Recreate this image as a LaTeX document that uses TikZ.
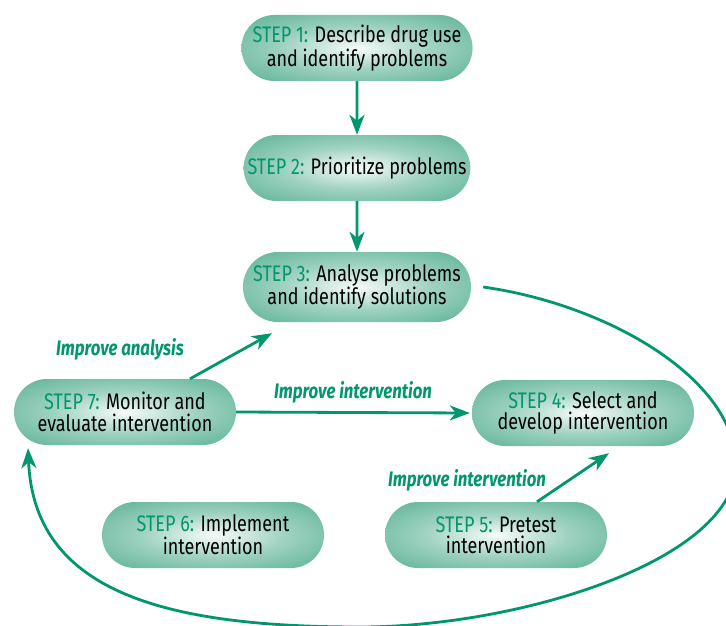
\documentclass[tikz,border=0pt]{standalone}
\usepackage{fontspec}
\setmainfont[FakeStretch=0.8]{Fira Sans}
\usetikzlibrary{shapes.misc,arrows.meta}

\definecolor{stepgreen}{RGB}{0,150,110}
\definecolor{boxgreen}{RGB}{44,156,118}
\pgfdeclareradialshading{stepshade}{\pgfpoint{0bp}{0bp}}{%
  color(0bp)=(white!96!boxgreen); color(16bp)=(boxgreen!45!white);
  color(40bp)=(boxgreen!85!white); color(50bp)=(boxgreen); color(75bp)=(boxgreen)}
\newcommand{\stp}[1]{\textcolor{stepgreen}{#1}}
\tikzset{
  stepbox/.style={rounded rectangle, shading=stepshade, minimum width=226pt,
    minimum height=66pt, align=center, font=\fontsize{22.5}{21.5}\selectfont, inner sep=2pt},
  flow/.style={draw=stepgreen, line width=2.8pt, -{Stealth[length=20pt,width=15pt,inset=6pt]}},
  improve/.style={text=stepgreen, font=\fontsize{21}{22}\selectfont\bfseries\itshape}
}

\begin{document}
\begin{tikzpicture}[x=1pt,y=-1pt]
  \useasboundingbox (0,0) rectangle (726,626);
  \clip (0,0) rectangle (726,626);

  \node[stepbox] (s1) at (357,48) {\stp{STEP 1:} Describe drug use\\and identify problems};
  \node[stepbox] (s2) at (357,168) {\stp{STEP 2:} Prioritize problems};
  \node[stepbox, minimum height=70pt] (s3) at (357,287) {\stp{STEP 3:} Analyse problems\\and identify solutions};
  \node[stepbox] (s7) at (125,412) {\stp{STEP 7:} Monitor and\\evaluate intervention};
  \node[stepbox] (s4) at (583,413) {\stp{STEP 4:} Select and\\develop intervention};
  \node[stepbox] (s6) at (213,535) {\stp{STEP 6:} Implement\\intervention};
  \node[stepbox] (s5) at (496,535) {\stp{STEP 5:} Pretest\\intervention};

  \coordinate (s3in) at ([xshift=-85pt,yshift=-11pt]s3.south);
  \coordinate (s4in) at ([xshift=26pt,yshift=-7pt]s4.south);
  \coordinate (loopstart) at ([xshift=12pt]s3.east);
  \coordinate (loopend) at ([xshift=-97pt,yshift=-3pt]s7.south);

  \draw[flow] (s1) -- (s2);
  \draw[flow] (s2) -- (s3);
  \draw[flow] ([xshift=65pt]s7.north) -- (s3in)
    node [improve, pos=-0.05, above=16pt, xshift=-66pt] (imp1) {Improve analysis};
  \draw[flow] (s7.east) -- ([xshift=-2pt]s4.west)
    node [improve, midway, above=5pt] (imp2) {Improve intervention};
  \draw[flow] ([xshift=41pt]s5.north) -- (s4in)
    node [improve, pos=0, above=6pt, xshift=-70pt] (imp3) {Improve intervention};

  % feedback loop round the right side and the bottom
  \draw[flow] (loopstart) .. controls (610,305) and (736,380) .. (736,465)
    .. controls (736,560) and (520,627) .. (360,627)
    .. controls (160,627) and (34,590) .. (loopend);
\end{tikzpicture}
\end{document}
